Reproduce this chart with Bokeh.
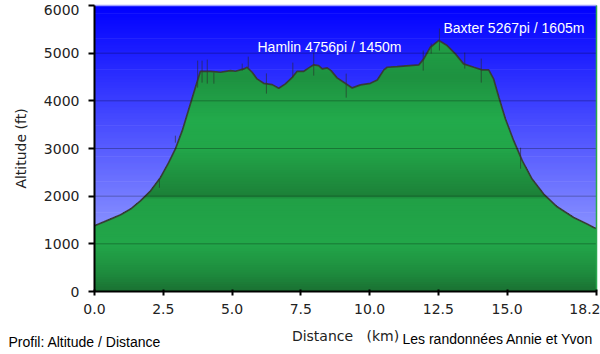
import numpy as np
from bokeh.plotting import figure
from bokeh.models import Range1d, FixedTicker, Label
from bokeh.embed import file_html
from bokeh.resources import INLINE

# ---------------- data ----------------
DISTANCE_KM = [0.00, 0.58, 0.95, 1.31, 1.67, 2.04, 2.40, 2.70, 2.94, 3.19,
               3.43, 3.67, 3.85, 4.22, 4.58, 4.94, 5.13, 5.43, 5.55, 5.73,
               5.91, 6.15, 6.46, 6.70, 6.94, 7.19, 7.37, 7.61, 7.79, 7.97,
               8.15, 8.28, 8.46, 8.60, 8.82, 9.06, 9.37, 9.67, 10.03, 10.28,
               10.52, 10.64, 11.00, 11.79, 11.97, 12.21, 12.52, 12.82, 13.12, 13.42,
               13.79, 14.09, 14.33, 14.51, 14.70, 14.94, 15.24, 15.55, 15.91, 16.33,
               16.82, 17.42, 17.91, 18.15, 18.25]
ALTITUDE_FT = [1380, 1519, 1609, 1729, 1903, 2113, 2393, 2708, 2990, 3374,
               3830, 4284, 4620, 4620, 4600, 4634, 4620, 4670, 4704, 4600,
               4460, 4368, 4340, 4263, 4355, 4494, 4620, 4620, 4691, 4756,
               4739, 4670, 4691, 4634, 4481, 4389, 4271, 4334, 4368, 4439,
               4649, 4704, 4718, 4754, 4880, 5124, 5267, 5160, 4985, 4775,
               4704, 4649, 4649, 4460, 4074, 3620, 3164, 2744, 2359, 2044,
               1777, 1553, 1414, 1342, 1320]

# thin vertical "noise" strokes along the profile
SPIKE_KM = [2.36, 2.94, 3.75, 3.91, 4.10, 4.34, 5.37, 5.59, 6.25, 7.21,
            7.97, 9.15, 11.95, 12.24, 12.54, 13.46, 14.06, 15.49]
SPIKE_LOW_FT = [2176, 3122, 4277, 4382, 4361, 4361, 4634, 4697, 4151, 4487,
                4529, 4067, 4634, 4991, 5055, 4676, 4382, 2576]
SPIKE_HIGH_FT = [2366, 3269, 4844, 4844, 4865, 4592, 4781, 4928, 4576, 4802,
                 5013, 4571, 5055, 5202, 5517, 5013, 4886, 3017]

X_MAX = 18.25
Y_MAX = 6000
X_TICKS = [0, 2.5, 5, 7.5, 10, 12.5, 15, 18.25]
X_TICK_LABELS = ["0.0", "2.5", "5.0", "7.5", "10.0", "12.5", "15.0", "18.2"]
Y_TICKS = [0, 1000, 2000, 3000, 4000, 5000, 6000]
Y_TICK_LABELS = ["0", "1000", "2000", "3000", "4000", "5000", "6000"]
GRID_TICKS = [1000, 2000, 3000, 4000, 5000]

PEAK_TEXTS = ["Hamlin 4756pi / 1450m", "Baxter 5267pi / 1605m"]
X_TITLE = "Distance\u00a0\u00a0 (km)"
Y_TITLE = "Altitude (ft)"
FOOT_LEFT = "Profil: Altitude / Distance"
FOOT_RIGHT = "Les randonnées Annie et Yvon"

# ---------------- colours ----------------
SKY_STOPS = [(0, (175, 185, 255)), (6000, (0, 0, 255))]
GREEN_STOPS = [(0, (26, 112, 50)), (400, (30, 140, 62)), (1000, (34, 166, 73)),
               (1950, (33, 160, 70)), (2000, (28, 128, 56)), (2300, (30, 140, 61)),
               (3000, (34, 166, 73)), (3600, (34, 170, 75)), (4500, (30, 145, 64)),
               (5300, (33, 162, 71))]


def color_at(v, stops):
    xs = [s[0] for s in stops]
    rgb = [int(round(np.interp(v, xs, [s[1][k] for s in stops]))) for k in range(3)]
    return "#%02x%02x%02x" % tuple(rgb)


# ---------------- layout: frame covers the canvas, axes fixed at 0 ----------------
W, H = 600, 354
PLOT_L, PLOT_R, PLOT_T, PLOT_B = 94, 596, 5, 291     # pixel box of the chart area
kx = (PLOT_R - PLOT_L) / X_MAX                      # px per km
ky = (PLOT_B - PLOT_T) / Y_MAX                      # px per ft
x_start, x_end = -PLOT_L / kx, X_MAX + (W - PLOT_R) / kx
y_start, y_end = -(H - PLOT_B) / ky, Y_MAX + PLOT_T / ky


def px_x(px):
    return (px - PLOT_L) / kx


def px_y(py):
    return (PLOT_B - py) / ky


dist = np.array(DISTANCE_KM, dtype=float)
alt = np.array(ALTITUDE_FT, dtype=float)

p = figure(width=W, height=H, output_backend="svg", toolbar_location=None,
           x_range=Range1d(x_start, x_end), y_range=Range1d(y_start, y_end),
           min_border=0)
p.title.visible = False
p.background_fill_color = "#ffffff"
p.border_fill_color = "#ffffff"
p.outline_line_color = None
p.xgrid.visible = False
p.ygrid.visible = False

# sky gradient (background bands)
step = 25
lows = np.arange(0, Y_MAX, step)
p.quad(left=0, right=X_MAX, bottom=lows, top=np.minimum(lows + step + 15, Y_MAX),
       fill_color=[color_at(l + step / 2, SKY_STOPS) for l in lows], line_color=None)

# green gradient under the profile: stacked clipped polygons
edges = np.arange(0, Y_MAX + 1, 50)
xs_aug = list(dist)
for e in edges:
    for i in range(len(dist) - 1):
        a0, a1 = alt[i], alt[i + 1]
        if (a0 - e) * (a1 - e) < 0:
            xs_aug.append(dist[i] + (e - a0) / (a1 - a0) * (dist[i + 1] - dist[i]))
xs_aug = np.unique(np.array(xs_aug))
ys_aug = np.interp(xs_aug, dist, alt)

poly_x, poly_y, poly_c = [], [], []
for hi in edges[::-1]:
    if hi - 50 >= ys_aug.max() or hi == 0:
        continue
    top = np.minimum(ys_aug, hi)
    poly_x.append(np.concatenate([xs_aug, xs_aug[::-1]]))
    poly_y.append(np.concatenate([top, np.zeros_like(xs_aug)]))
    poly_c.append(color_at(hi - 25, GREEN_STOPS))
p.patches(xs=poly_x, ys=poly_y, fill_color=poly_c, line_color=None)

# noise strokes and profile line
p.segment(x0=SPIKE_KM, y0=SPIKE_LOW_FT, x1=SPIKE_KM, y1=SPIKE_HIGH_FT,
          line_color="#2a2a2a", line_alpha=0.6, line_width=1)
p.line(dist, alt, line_color="#3a3030", line_width=1.7, line_alpha=0.85)

# horizontal grid lines over the areas
p.segment(x0=0, x1=X_MAX, y0=GRID_TICKS, y1=GRID_TICKS,
          line_color="#000000", line_alpha=0.28, line_width=1)
# light top edge and green right edge of the chart area
p.segment(x0=0, x1=X_MAX, y0=Y_MAX, y1=Y_MAX, line_color="#a0a0ff", line_width=1.5)
p.segment(x0=X_MAX, x1=X_MAX, y0=0, y1=Y_MAX, line_color="#2aa84e", line_width=1.5)

# axes, fixed at the chart's origin
xa = p.xaxis[0]
xa.fixed_location = 0
xa.bounds = (0, X_MAX)
xa.ticker = FixedTicker(ticks=X_TICKS)
xa.major_label_overrides = {t: l for t, l in zip(X_TICKS, X_TICK_LABELS)}
xa.minor_tick_line_color = None
xa.axis_line_color = "#000000"
xa.axis_line_width = 2
xa.major_tick_line_color = "#000000"
xa.major_tick_line_width = 2
xa.major_tick_in = 2
xa.major_tick_out = 4
xa.major_label_standoff = 8
xa.major_label_text_font = "DejaVu Sans"
xa.major_label_text_font_size = "14px"
xa.major_label_text_color = "#222222"
xa.axis_label = X_TITLE
xa.axis_label_text_font = "DejaVu Sans"
xa.axis_label_text_font_size = "14px"
xa.axis_label_text_font_style = "normal"
xa.axis_label_text_color = "#222222"
xa.axis_label_standoff = 11

ya = p.yaxis[0]
ya.fixed_location = 0
ya.bounds = (0, Y_MAX)
ya.ticker = FixedTicker(ticks=Y_TICKS)
# top label is drawn a little lower (kept inside the picture), see Label below
overrides = {t: l for t, l in zip(Y_TICKS, Y_TICK_LABELS)}
overrides[Y_MAX] = ""
ya.major_label_overrides = overrides
ya.minor_tick_line_color = None
ya.axis_line_color = "#000000"
ya.axis_line_width = 2
ya.major_tick_line_color = "#000000"
ya.major_tick_line_width = 2
ya.major_tick_in = 0
ya.major_tick_out = 6
ya.major_label_standoff = 9
ya.major_label_text_font = "DejaVu Sans"
ya.major_label_text_font_size = "14px"
ya.major_label_text_color = "#222222"
ya.axis_label = Y_TITLE
ya.axis_label_text_font = "DejaVu Sans"
ya.axis_label_text_font_size = "14px"
ya.axis_label_text_font_style = "normal"
ya.axis_label_text_color = "#222222"
ya.axis_label_standoff = 12

p.add_layout(Label(x=px_x(79), y=Y_MAX, y_offset=1, text=Y_TICK_LABELS[-1],
                   text_color="#222222", text_font="DejaVu Sans", text_font_size="14px",
                   text_align="right", text_baseline="top"))

# peak annotations
p.add_layout(Label(x=px_x(257), y=px_y(46), text=PEAK_TEXTS[0], text_color="#ffffff",
                   text_font="Liberation Sans", text_font_size="14px",
                   text_align="left", text_baseline="middle"))
p.add_layout(Label(x=px_x(443), y=px_y(27), text=PEAK_TEXTS[1], text_color="#ffffff",
                   text_font="Liberation Sans", text_font_size="14px",
                   text_align="left", text_baseline="middle"))

# footer texts
p.add_layout(Label(x=px_x(8), y=px_y(341.5), text=FOOT_LEFT, text_color="#000000",
                   text_font="Liberation Sans", text_font_size="14px",
                   text_align="left", text_baseline="middle"))
p.add_layout(Label(x=px_x(402), y=px_y(338), text=FOOT_RIGHT, text_color="#000000",
                   text_font="Liberation Sans", text_font_size="14px",
                   text_align="left", text_baseline="middle"))

open("out.html", "w").write(file_html(p, INLINE))
